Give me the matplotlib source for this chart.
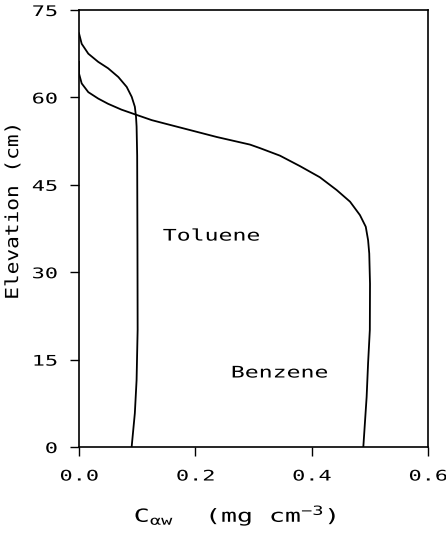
import matplotlib
matplotlib.use("Agg")
import matplotlib.pyplot as plt
from matplotlib.patheffects import AbstractPathEffect
from matplotlib.transforms import Affine2D

# ---- data ----
toluene_c = [0.0905, 0.096, 0.099, 0.1008, 0.1005, 0.100, 0.099, 0.098, 0.096,
             0.0906, 0.082, 0.0676, 0.050, 0.033, 0.016, 0.0046, 0.0]
toluene_z = [0.0, 5.8, 11.5, 20.1, 35.0, 50.0, 55.0, 56.7, 58.4,
             60.1, 61.8, 63.5, 65.0, 66.1, 67.5, 69.2, 71.0]

benzene_c = [0.4888, 0.4945, 0.497, 0.500, 0.5003, 0.499, 0.497, 0.493, 0.483,
             0.466, 0.443, 0.414, 0.380, 0.3455, 0.311, 0.294, 0.237, 0.179,
             0.148, 0.125, 0.096, 0.073, 0.050, 0.033, 0.016, 0.0046, 0.0, 0.0]
benzene_z = [0.0, 8.6, 14.4, 20.1, 28.0, 33.2, 35.5, 37.8, 39.8,
             42.1, 44.1, 46.3, 48.2, 50.0, 51.3, 51.9, 53.2, 54.7,
             55.5, 56.1, 57.1, 57.9, 58.9, 59.8, 60.9, 62.4, 64.1, 66.1]

x_ticks = [0.0, 0.2, 0.4, 0.6]
x_ticklabels = ["0.0", "0.2", "0.4", "0.6"]
y_ticks = [0, 15, 30, 45, 60, 75]
y_ticklabels = ["0", "15", "30", "45", "60", "75"]


class HStretch(AbstractPathEffect):
    """Stretch text glyphs horizontally (along the text direction)."""
    def __init__(self, sx, anchor="center"):
        super().__init__()
        self.sx = sx
        self.anchor = anchor

    def draw_path(self, renderer, gc, tpath, affine, rgbFace=None):
        v = tpath.vertices
        if len(v):
            xmin, xmax = v[:, 0].min(), v[:, 0].max()
        else:
            xmin = xmax = 0.0
        c = {"left": xmin, "center": 0.5 * (xmin + xmax), "right": xmax}[self.anchor]
        t = Affine2D().translate(-c, 0).scale(self.sx, 1.0).translate(c, 0)
        renderer.draw_path(gc, tpath, t + affine, rgbFace)


plt.rcParams["font.family"] = ["DejaVu Sans Mono", "DejaVu Sans"]
plt.rcParams["mathtext.fontset"] = "dejavusans"
plt.rcParams["mathtext.default"] = "regular"

fig = plt.figure(figsize=(4.46, 5.34), dpi=100)
ax = fig.add_axes([79 / 446, 1 - 447 / 534, (428 - 79) / 446, (447 - 10) / 534])

ax.plot(toluene_c, toluene_z, color="black", lw=1.3)
ax.plot(benzene_c, benzene_z, color="black", lw=1.3)

ax.set_xlim(0, 0.6)
ax.set_ylim(0, 75)
ax.set_xticks(x_ticks)
ax.set_xticklabels(x_ticklabels)
ax.set_yticks(y_ticks)
ax.set_yticklabels(y_ticklabels)
ax.tick_params(direction="out", length=6.5, width=1.0, labelsize=10.5, pad=9)
for s in ax.spines.values():
    s.set_linewidth(1.2)

for lab in ax.get_xticklabels():
    lab.set_path_effects([HStretch(1.5, "center")])
for lab in ax.get_yticklabels():
    lab.set_path_effects([HStretch(1.5, "right")])

ax.text(0.144, 36.2, "Toluene", fontsize=11.5, ha="left", va="center",
        path_effects=[HStretch(1.45, "left")])
ax.text(0.261, 12.7, "Benzene", fontsize=11.5, ha="left", va="center",
        path_effects=[HStretch(1.45, "left")])

ax.set_ylabel("Elevation (cm)", fontsize=13,
              path_effects=[HStretch(1.17, "center")])
ax.yaxis.set_label_coords(-0.163, 0.54)
ax.set_xlabel(r"C$_{\alpha w}$  (mg cm$^{-3}$)", fontsize=13,
              path_effects=[HStretch(1.47, "center")])
ax.xaxis.set_label_coords(0.447, -0.130)

fig.savefig("out.png", dpi=100)
